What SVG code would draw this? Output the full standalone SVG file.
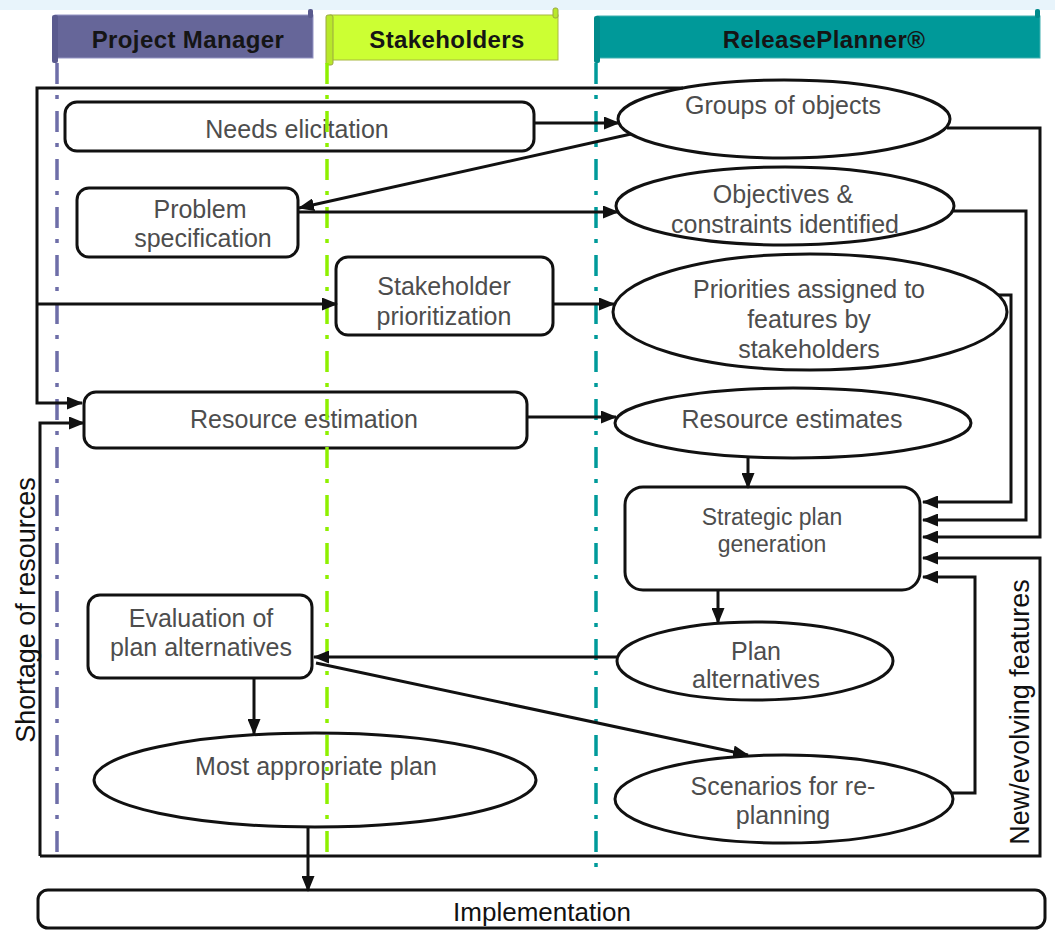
<svg xmlns="http://www.w3.org/2000/svg" width="1055" height="930" viewBox="0 0 1055 930">
<defs>
<style>
.box{fill:#fff;stroke:#111;stroke-width:3}
.ell{fill:#fff;stroke:#111;stroke-width:3}
.t{font-family:"Liberation Sans",Arial,sans-serif;font-size:25px;fill:#4d4d4d;text-anchor:middle}
.h{font-family:"Liberation Sans",Arial,sans-serif;font-size:24px;font-weight:bold;fill:#151515;text-anchor:middle;letter-spacing:0.4px}
.lbl{font-family:"Liberation Sans",Arial,sans-serif;font-size:27px;fill:#111;text-anchor:middle}
.c{fill:none;stroke:#111;stroke-width:3}
.lane{fill:none;stroke-width:3.5;stroke-dasharray:21 11 4 12}
</style>
<marker id="arr" markerUnits="userSpaceOnUse" markerWidth="16" markerHeight="13" refX="15" refY="6.5" orient="auto">
<path d="M0,0 L16,6.5 L0,13 z" fill="#111"/>
</marker>
</defs>
<rect x="0" y="0" width="1055" height="930" fill="#fff"/>
<rect x="0" y="0" width="1055" height="10" fill="#e8f4fb"/>

<g id="header-pm">
<rect x="55" y="15" width="258" height="43" fill="#666699" stroke="#9494c4" stroke-width="1"/>
<rect x="52" y="15" width="6" height="48" rx="2" fill="#5a5a8e"/>
<rect x="308" y="9" width="5" height="9" rx="2" fill="#5a5a8e"/>
<text class="h" x="188" y="48">Project Manager</text>
</g>
<g id="header-stakeholders">
<rect x="330" y="15" width="228" height="45" fill="#ccff33" stroke="#a8b840" stroke-width="1"/>
<rect x="326" y="15" width="7" height="50" rx="2" fill="#b8e82a" stroke="#9aa840" stroke-width="1"/>
<rect x="553" y="8" width="5" height="10" rx="2" fill="#b8e82a" stroke="#9aa840" stroke-width="1"/>
<text class="h" x="447" y="48">Stakeholders</text>
</g>
<g id="header-releaseplanner">
<rect x="597" y="16" width="443" height="42" fill="#009999" stroke="#40b0b0" stroke-width="1"/>
<rect x="594" y="16" width="6" height="47" rx="2" fill="#008a8a"/>
<rect x="1035" y="9" width="5" height="9" rx="2" fill="#008a8a"/>
<text class="h" x="824" y="48">ReleasePlanner®</text>
</g>

<g id="node-needs"><rect class="box" x="65" y="102" width="469" height="49" rx="12"/><text class="t" x="297" y="138">Needs elicitation</text></g>
<g id="node-problem"><rect class="box" x="77" y="188" width="221" height="69" rx="12"/><text class="t" x="200" y="218">Problem</text><text class="t" x="203" y="247">specification</text></g>
<g id="node-stakeholder"><rect class="box" x="336" y="257" width="217" height="78" rx="12"/><text class="t" x="444" y="295">Stakeholder</text><text class="t" x="444" y="325">prioritization</text></g>
<g id="node-resource-estimation"><rect class="box" x="84" y="392" width="443" height="56" rx="12"/><text class="t" x="304" y="428">Resource estimation</text></g>
<g id="node-groups"><ellipse class="ell" cx="784" cy="119" rx="166" ry="39"/><text class="t" x="783" y="114">Groups of objects</text></g>
<g id="node-objectives"><ellipse class="ell" cx="785" cy="206" rx="169" ry="39"/><text class="t" x="783" y="203">Objectives &amp;</text><text class="t" x="785" y="233">constraints identified</text></g>
<g id="node-priorities"><ellipse class="ell" cx="810" cy="312" rx="197" ry="58"/><text class="t" x="809" y="298">Priorities assigned to</text><text class="t" x="809" y="328">features by</text><text class="t" x="809" y="358">stakeholders</text></g>
<g id="node-resource-estimates"><ellipse class="ell" cx="793" cy="423" rx="178" ry="35"/><text class="t" x="792" y="428">Resource estimates</text></g>
<g id="node-strategic"><rect class="box" x="625" y="487" width="295" height="103" rx="18"/><text class="t" x="772" y="525" style="font-size:23px">Strategic plan</text><text class="t" x="772" y="552" style="font-size:23px">generation</text></g>
<g id="node-plan-alternatives"><ellipse class="ell" cx="755" cy="661" rx="138" ry="39"/><text class="t" x="756" y="660">Plan</text><text class="t" x="756" y="688">alternatives</text></g>
<g id="node-scenarios"><ellipse class="ell" cx="784" cy="799" rx="169" ry="44"/><text class="t" x="783" y="795">Scenarios for re-</text><text class="t" x="783" y="824">planning</text></g>
<g id="node-evaluation"><rect class="box" x="88" y="595" width="224" height="83" rx="12"/><text class="t" x="201" y="627">Evaluation of</text><text class="t" x="201" y="656">plan alternatives</text></g>
<g id="node-most-appropriate"><ellipse class="ell" cx="315" cy="780" rx="221" ry="47"/><text class="t" x="316" y="775">Most appropriate plan</text></g>
<g id="node-implementation"><rect class="box" x="38" y="890" width="1007" height="38" rx="10"/><text class="lbl" x="542" y="921" style="font-size:26px">Implementation</text></g>

<g id="labels">
<text class="lbl" transform="translate(35,610) rotate(-90)">Shortage of resources</text>
<text class="lbl" transform="translate(1029,712) rotate(-90)">New/evolving features</text>
</g>

<g id="lanes">
<line class="lane" x1="57" y1="63" x2="57" y2="855" stroke="#6e6ea8"/>
<line class="lane" x1="327" y1="63" x2="327" y2="855" stroke="#8ef000"/>
<line class="lane" x1="596" y1="63" x2="596" y2="875" stroke="#009a9a"/>
</g>

<g id="connectors">
<path class="c" d="M683,88 H37 V403 H82" marker-end="url(#arr)"/>
<path class="c" d="M37,304 H337" marker-end="url(#arr)"/>
<path class="c" d="M40,856 V423 H84" marker-end="url(#arr)"/>
<path class="c" d="M40,856 H1040 V558 H923" marker-end="url(#arr)"/>
<path class="c" d="M534,123 H619" marker-end="url(#arr)"/>
<path class="c" d="M631,134 L299,208" marker-end="url(#arr)"/>
<path class="c" d="M298,212 H618" marker-end="url(#arr)"/>
<path class="c" d="M553,304 H614" marker-end="url(#arr)"/>
<path class="c" d="M527,417 H616" marker-end="url(#arr)"/>
<path class="c" d="M748,458 V488" marker-end="url(#arr)"/>
<path class="c" d="M947,128 H1040 V537 H923" marker-end="url(#arr)"/>
<path class="c" d="M952,211 H1026 V520 H923" marker-end="url(#arr)"/>
<path class="c" d="M998,295 H1011 V502 H923" marker-end="url(#arr)"/>
<path class="c" d="M952,793 H975 V577 H923" marker-end="url(#arr)"/>
<path class="c" d="M718,590 V623" marker-end="url(#arr)"/>
<path class="c" d="M617,657 H314" marker-end="url(#arr)"/>
<path class="c" d="M316,663 L748,755" marker-end="url(#arr)"/>
<path class="c" d="M254,678 V734" marker-end="url(#arr)"/>
<path class="c" d="M308,827 V891" marker-end="url(#arr)"/>
</g>
</svg>
